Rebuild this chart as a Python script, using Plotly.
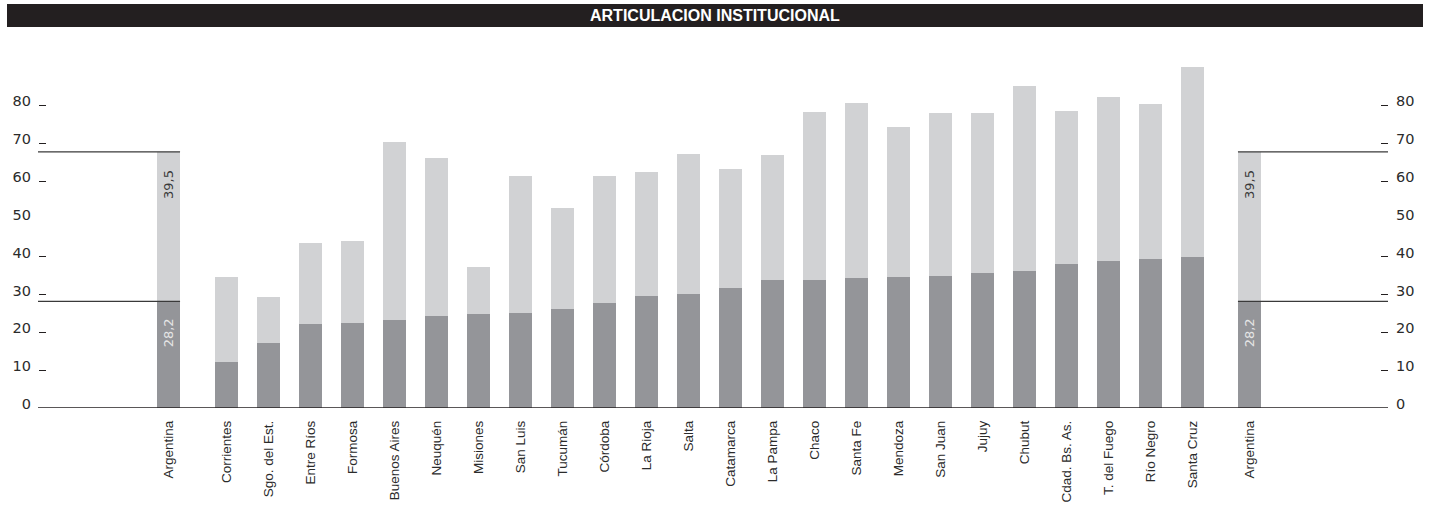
import plotly.graph_objects as go

# ---------------- data ----------------
title_text = "ARTICULACION INSTITUCIONAL"
national_label = "Argentina"
national_dark = 28.2
national_light = 39.5

provinces = ["Corrientes", "Sgo. del Est.", "Entre Ríos", "Formosa", "Buenos Aires",
             "Neuquén", "Misiones", "San Luis", "Tucumán", "Córdoba", "La Rioja",
             "Salta", "Catamarca", "La Pampa", "Chaco", "Santa Fe", "Mendoza",
             "San Juan", "Jujuy", "Chubut", "Cdad. Bs. As.", "T. del Fuego",
             "Río Negro", "Santa Cruz"]
dark_values = [12.2, 17.3, 22.3, 22.5, 23.3, 24.4, 24.9, 25.0, 26.2, 27.8, 29.7, 30.2,
               31.8, 33.9, 33.9, 34.4, 34.7, 35.0, 35.7, 36.3, 38.1, 38.9, 39.4, 40.0]
light_values = [22.5, 12.1, 21.4, 21.7, 47.0, 41.7, 12.4, 36.4, 26.7, 33.6, 32.7, 37.0,
                31.4, 33.0, 44.4, 46.3, 39.6, 43.0, 42.3, 48.9, 40.4, 43.3, 41.0, 50.2]
y_tick_values = [0, 10, 20, 30, 40, 50, 60, 70, 80]
y_mark_values = [10, 20, 30, 40, 60, 70, 80]

# ---------------- layout constants ----------------
W, H = 1430, 516
ML, MR, MT, MB = 38, 42, 60, 108
PW = W - ML - MR
PH = H - MT - MB
YMAX = 92

DARK = "#949599"
LIGHT = "#d1d2d4"
INK = "#231f20"
BARGAP = 0.45


def px_to_paper_x(px):
    return (px - ML) / PW


def px_to_paper_y(py):
    return (H - MB - py) / PH


dom_main = [px_to_paper_x(205.5), px_to_paper_x(1213.5)]
dom_left = [px_to_paper_x(147.5), px_to_paper_x(189.5)]
dom_right = [px_to_paper_x(1228.5), px_to_paper_x(1270.5)]

fig = go.Figure()


def add_pair(xs, d, l, xaxis):
    fig.add_trace(go.Bar(x=xs, y=d, marker=dict(color=DARK, line=dict(width=0)),
                         xaxis=xaxis, yaxis="y", showlegend=False, hoverinfo="x+y"))
    fig.add_trace(go.Bar(x=xs, y=l, marker=dict(color=LIGHT, line=dict(width=0)),
                         xaxis=xaxis, yaxis="y", showlegend=False, hoverinfo="x+y"))


add_pair([national_label], [national_dark], [national_light], "x2")
add_pair(provinces, dark_values, light_values, "x")
add_pair([national_label], [national_dark], [national_light], "x3")

# invisible traces so that the tick-mark axes are drawn
for ya in ("y3", "y4", "y2"):
    fig.add_trace(go.Scatter(x=[provinces[0]], y=[None], xaxis="x", yaxis=ya,
                             showlegend=False, hoverinfo="skip", mode="lines"))

tick_font = dict(family="DejaVu Sans, sans-serif", size=14.5, color="#2b2b2b")
xlab_font = dict(family="Liberation Sans, Arial, sans-serif", size=13.5, color="#2b2b2b")

common_x = dict(type="category", anchor="y", showgrid=False, zeroline=False,
                showline=False, ticks="", tickangle=-90, tickfont=xlab_font,
                automargin=False, fixedrange=True, ticklabelstandoff=9)

fig.update_layout(
    width=W, height=H,
    margin=dict(l=ML, r=MR, t=MT, b=MB, pad=0),
    paper_bgcolor="white", plot_bgcolor="white",
    barmode="stack", bargap=BARGAP,
    showlegend=False,
    xaxis=dict(domain=dom_main, range=[-0.5, len(provinces) - 0.5], **common_x),
    xaxis2=dict(domain=dom_left, range=[-0.5, 0.5], **common_x),
    xaxis3=dict(domain=dom_right, range=[-0.5, 0.5], **common_x),
    yaxis=dict(range=[0, YMAX], anchor="free", position=0, side="left",
               tickvals=y_tick_values, ticktext=[str(v) for v in y_tick_values],
               ticks="", showgrid=False, zeroline=False, showline=False,
               tickfont=tick_font, automargin=False, ticklabelstandoff=7,
               ticklabelshift=-4, fixedrange=True),
    yaxis2=dict(range=[0, YMAX], anchor="free", position=1, side="right",
                overlaying="y", tickvals=y_tick_values,
                ticktext=[str(v) for v in y_tick_values],
                ticks="", showgrid=False, zeroline=False, showline=False,
                tickfont=tick_font, automargin=False, ticklabelstandoff=7,
                ticklabelshift=-4, fixedrange=True),
    yaxis3=dict(range=[0, YMAX], anchor="free", position=0, side="left",
                overlaying="y", tickvals=y_mark_values, showticklabels=False,
                ticks="inside", ticklen=7, tickwidth=1, tickcolor=INK,
                showgrid=False, zeroline=False, showline=False, fixedrange=True),
    yaxis4=dict(range=[0, YMAX], anchor="free", position=1, side="right",
                overlaying="y", tickvals=y_mark_values, showticklabels=False,
                ticks="inside", ticklen=7, tickwidth=1, tickcolor=INK,
                showgrid=False, zeroline=False, showline=False, fixedrange=True),
)

national_total = national_dark + national_light
half = (1 - BARGAP) / 2
left_bar_right = dom_left[0] + (0.5 + half) * (dom_left[1] - dom_left[0])
right_bar_left = dom_right[0] + (0.5 - half) * (dom_right[1] - dom_right[0])

shapes = []
for yv in (national_dark, national_total):
    shapes.append(dict(type="line", xref="paper", yref="y", x0=0, x1=left_bar_right,
                       y0=yv, y1=yv, line=dict(color="#3a3a3a", width=1.3)))
    shapes.append(dict(type="line", xref="paper", yref="y", x0=right_bar_left, x1=1,
                       y0=yv, y1=yv, line=dict(color="#3a3a3a", width=1.3)))
# baseline
shapes.append(dict(type="line", xref="paper", yref="y", x0=0, x1=1, y0=0, y1=0,
                   line=dict(color=INK, width=1.6)))
# title band
shapes.append(dict(type="rect", xref="paper", yref="paper",
                   x0=px_to_paper_x(7), x1=px_to_paper_x(1423),
                   y0=px_to_paper_y(27), y1=px_to_paper_y(4),
                   fillcolor=INK, line=dict(width=0), layer="above"))
fig.update_layout(shapes=shapes)


def fmt(v):
    return f"{v:.1f}".replace(".", ",")


annotations = [dict(text=title_text, xref="paper", yref="paper",
                    x=px_to_paper_x(715), y=px_to_paper_y(15.5),
                    xanchor="center", yanchor="middle", showarrow=False,
                    font=dict(family="Liberation Sans, Arial, sans-serif", size=16,
                              color="white", weight="bold"))]
for xa in ("x2", "x3"):
    annotations.append(dict(text=fmt(national_light), xref=xa, yref="y",
                            x=national_label, y=national_total, yanchor="top",
                            xanchor="center", yshift=-16, textangle=-90,
                            showarrow=False,
                            font=dict(family="DejaVu Sans, sans-serif", size=13,
                                      color="#3a3a3a")))
    annotations.append(dict(text=fmt(national_dark), xref=xa, yref="y",
                            x=national_label, y=national_dark, yanchor="top",
                            xanchor="center", yshift=-15, textangle=-90,
                            showarrow=False,
                            font=dict(family="DejaVu Sans, sans-serif", size=13,
                                      color="#e6e6e6")))
fig.update_layout(annotations=annotations)

fig.write_html("out.html", config={"displayModeBar": False},
               post_script="document.body.style.margin='0';document.body.style.overflow='hidden';")
